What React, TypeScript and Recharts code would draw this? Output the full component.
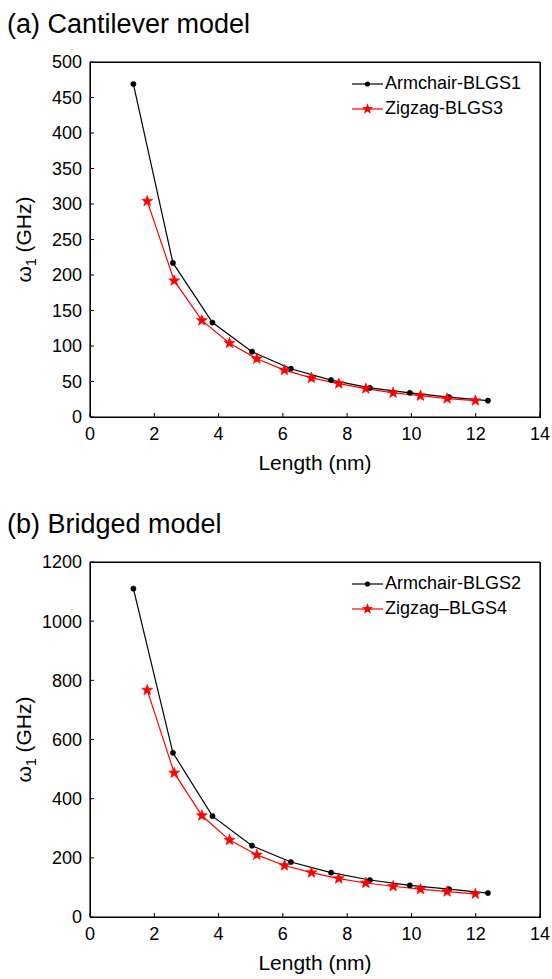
import React from "react";
import { LineChart, Line, XAxis, YAxis } from "recharts";

const FONT = '"Liberation Sans", Arial, Helvetica, sans-serif';

// x axis (nm), shared by both panels
const xTicks = [0, 2, 4, 6, 8, 10, 12, 14];

// (a) Cantilever model
const yTicksA = [0, 50, 100, 150, 200, 250, 300, 350, 400, 450, 500];
const armLenA = [1.35, 2.58, 3.81, 5.04, 6.25, 7.5, 8.71, 9.95, 11.17, 12.38];
const armFreqA = [469, 217, 133, 92, 68, 52, 41, 34, 28, 23];
const zigLenA = [1.78, 2.62, 3.48, 4.34, 5.19, 6.05, 6.89, 7.74, 8.58, 9.43, 10.28, 11.11, 11.99];
const zigFreqA = [304, 192, 136, 104, 82, 66, 55, 47, 40, 34, 30, 26, 23];

// (b) Bridged model
const yTicksB = [0, 200, 400, 600, 800, 1000, 1200];
const armLenB = [1.35, 2.58, 3.81, 5.04, 6.25, 7.5, 8.71, 9.95, 11.17, 12.38];
const armFreqB = [1110, 555, 341, 241, 186, 150, 125, 107, 94, 81];
const zigLenB = [1.78, 2.62, 3.48, 4.34, 5.19, 6.05, 6.89, 7.74, 8.58, 9.43, 10.28, 11.11, 11.99];
const zigFreqB = [767, 487, 343, 260, 210, 174, 150, 130, 115, 104, 94, 86, 78];

const toPoints = (xs: number[], ys: number[]) => xs.map((x, i) => ({ x, y: ys[i] }));

function starPoints(cx: number, cy: number, r: number) {
  const pts: string[] = [];
  for (let i = 0; i < 10; i++) {
    const rad = i % 2 === 0 ? r : r * 0.42;
    const a = -Math.PI / 2 + (i * Math.PI) / 5;
    pts.push(`${cx + rad * Math.cos(a)},${cy + rad * Math.sin(a)}`);
  }
  return pts.join(" ");
}

const DotMarker = (props: any) => {
  const { cx, cy, index } = props;
  if (cx == null || cy == null) return <g key={index} />;
  return <circle key={index} cx={cx} cy={cy} r={2.6} fill="#000" stroke="#000" strokeWidth={0.6} />;
};

const StarMarker = (props: any) => {
  const { cx, cy, index } = props;
  if (cx == null || cy == null) return <g key={index} />;
  return <polygon key={index} points={starPoints(cx, cy, 5.8)} fill="#ff0000" stroke="#ff0000" strokeWidth={0.6} />;
};

const xTitle = () => (
  <text x={315} y={470} textAnchor="middle" fontSize={21} fontFamily={FONT} fill="#000">
    Length (nm)
  </text>
);

const yTitle = () => (
  <text x={31} y={239.5} transform="rotate(-90 31 239.5)" textAnchor="middle" fontSize={21} fontFamily={FONT} fill="#000">
    ω<tspan dy={5} fontSize={14}>1</tspan>
    <tspan dy={-5}> (GHz)</tspan>
  </text>
);

const axisLine = { stroke: "#000", strokeWidth: 1.2 };
const tickLine = { stroke: "#000", strokeWidth: 1 };
const tickText = { fill: "#000", fontSize: 18, fontFamily: FONT };
const MARGIN = { top: 62, right: 12, bottom: 12, left: 30 };

function LegendBox({ armName, zigName }: { armName: string; zigName: string }) {
  return (
    <div style={{ position: "absolute", left: 352, top: 71, fontFamily: FONT, fontSize: 18, color: "#000" }}>
      <div style={{ display: "flex", alignItems: "center", height: 25, whiteSpace: "nowrap" }}>
        <svg width={31} height={14}>
          <line x1={0} y1={7} x2={31} y2={7} stroke="#000" strokeWidth={1.2} />
          <circle cx={15.5} cy={7} r={2.6} fill="#000" />
        </svg>
        <span style={{ marginLeft: 2 }}>{armName}</span>
      </div>
      <div style={{ display: "flex", alignItems: "center", height: 25, whiteSpace: "nowrap" }}>
        <svg width={31} height={14}>
          <line x1={0} y1={7} x2={31} y2={7} stroke="#ff0000" strokeWidth={1.2} />
          <polygon points={starPoints(15.5, 7, 5.8)} fill="#ff0000" />
        </svg>
        <span style={{ marginLeft: 2 }}>{zigName}</span>
      </div>
    </div>
  );
}

interface PanelProps {
  top: number;
  title: string;
  yMax: number;
  yTicks: number[];
  arm: { x: number; y: number }[];
  zig: { x: number; y: number }[];
  armName: string;
  zigName: string;
}

function Panel({ top, title, yMax, yTicks, arm, zig, armName, zigName }: PanelProps) {
  return (
    <div style={{ position: "absolute", left: 0, top, width: 552, height: 479 }}>
      <div style={{ position: "absolute", left: 7, top: 11, fontSize: 27, lineHeight: "27px", fontFamily: FONT, whiteSpace: "nowrap", color: "#000" }}>
        {title}
      </div>
      <div style={{ position: "absolute", left: 0, top: 0 }}>
        <LineChart width={552} height={479} data={arm} margin={MARGIN}>
          <XAxis xAxisId="b" type="number" dataKey="x" domain={[0, 14]} ticks={xTicks} interval={0} allowDataOverflow
            height={50} tickSize={-4} tickMargin={14} axisLine={axisLine} tickLine={tickLine} tick={tickText} label={xTitle} />
          <YAxis yAxisId="l" type="number" domain={[0, yMax]} ticks={yTicks} interval={0} allowDataOverflow
            width={60} tickSize={-4} tickMargin={12} axisLine={axisLine} tickLine={tickLine} tick={tickText} label={yTitle} />
          <XAxis xAxisId="t" orientation="top" mirror type="number" dataKey="x" domain={[0, 14]} ticks={xTicks} interval={0}
            allowDataOverflow tickSize={4} axisLine={axisLine} tickLine={tickLine} tick={false} />
          <YAxis yAxisId="r" orientation="right" mirror type="number" domain={[0, yMax]} ticks={yTicks} interval={0}
            allowDataOverflow tickSize={4} axisLine={axisLine} tickLine={tickLine} tick={false} />
          <Line xAxisId="b" yAxisId="l" data={arm} dataKey="y" type="linear" stroke="#000" strokeWidth={1.2}
            dot={DotMarker} activeDot={false} isAnimationActive={false} />
          <Line xAxisId="t" yAxisId="r" data={zig} dataKey="y" type="linear" stroke="#ff0000" strokeWidth={1.2}
            dot={StarMarker} activeDot={false} isAnimationActive={false} />
        </LineChart>
      </div>
      {/* box around the plot area (top and right edges of the MATLAB-style frame) */}
      <div
        style={{
          position: "absolute",
          left: MARGIN.left + 60 - 0.5,
          top: MARGIN.top - 0.5,
          width: 552 - MARGIN.left - 60 - MARGIN.right + 1,
          height: 479 - MARGIN.top - MARGIN.bottom - 50 + 1,
          border: "1.2px solid #000",
          boxSizing: "border-box",
          pointerEvents: "none",
        }}
      />
      <LegendBox armName={armName} zigName={zigName} />
    </div>
  );
}

export default function App() {
  return (
    <div style={{ position: "relative", width: 552, height: 979, background: "#fff", overflow: "hidden" }}>
      <style>{`body{margin:0;}`}</style>
      <Panel top={0} title="(a) Cantilever model" yMax={500} yTicks={yTicksA}
        arm={toPoints(armLenA, armFreqA)} zig={toPoints(zigLenA, zigFreqA)} armName="Armchair-BLGS1" zigName="Zigzag-BLGS3" />
      <Panel top={500} title="(b) Bridged model" yMax={1200} yTicks={yTicksB}
        arm={toPoints(armLenB, armFreqB)} zig={toPoints(zigLenB, zigFreqB)} armName="Armchair-BLGS2" zigName="Zigzag–BLGS4" />
    </div>
  );
}
